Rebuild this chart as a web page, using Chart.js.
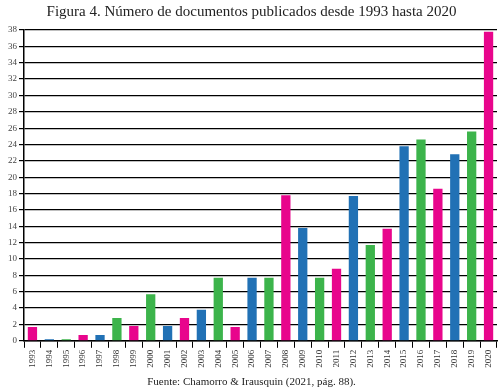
<!DOCTYPE html>
<html>
<head>
<meta charset="utf-8">
<script src="https://cdn.jsdelivr.net/npm/chart.js@4"></script>
<style>
  html, body { margin: 0; padding: 0; background: #fff; }
  #wrap { width: 504px; height: 392px; }
</style>
</head>
<body>
<div id="wrap"><canvas id="myChart" width="504" height="392"></canvas></div>
<script>
const years = ["1993", "1994", "1995", "1996", "1997", "1998", "1999", "2000", "2001", "2002",
  "2003", "2004", "2005", "2006", "2007", "2008", "2009", "2010", "2011", "2012",
  "2013", "2014", "2015", "2016", "2017", "2018", "2019", "2020"];

const docs = [1.7, 0.2, 0.2, 0.7, 0.7, 2.8, 1.8, 5.7, 1.8, 2.8,
  3.8, 7.7, 1.7, 7.7, 7.7, 17.8, 13.8, 7.7, 8.8, 17.7,
  11.7, 13.7, 23.8, 24.6, 18.6, 22.8, 25.6, 37.8];

// m = magenta, b = blue, g = green
const colorKeys = ["m", "b", "g", "m", "b", "g", "m", "g", "b", "m",
  "b", "g", "m", "b", "g", "m", "b", "g", "m", "b",
  "g", "m", "b", "g", "m", "b", "g", "m"];

const palette = { m: "#e8058c", b: "#2171b5", g: "#3cb44b" };

const ctx = document.getElementById("myChart");

new Chart(ctx, {
  type: "bar",
  data: {
    labels: years,
    datasets: [
      {
        data: docs,
        backgroundColor: colorKeys.map((k) => palette[k]),
        barPercentage: 0.55,
        categoryPercentage: 1,
      },
    ],
  },
  options: {
    responsive: false,
    animation: false,
    layout: { padding: { left: 6, right: 7, top: 0, bottom: 0 } },
    plugins: {
      legend: { display: false },
      tooltip: { enabled: false },
      title: {
        display: true,
        text: "Figura 4. Número de documentos publicados desde 1993 hasta 2020",
        color: "#222",
        font: { family: "Liberation Serif", size: 15, weight: "normal" },
        padding: { top: 3, bottom: 9 },
      },
      subtitle: {
        display: true,
        position: "bottom",
        text: "Fuente: Chamorro & Irausquin (2021, pág. 88).",
        color: "#222",
        font: { family: "Liberation Serif", size: 11 },
        padding: { top: 6, bottom: 3 },
      },
    },
    scales: {
      x: {
        grid: {
          display: true,
          offset: true,
          drawOnChartArea: false,
          drawTicks: true,
          tickLength: 7,
          color: "#000",
        },
        border: { color: "#000", width: 1.5 },
        ticks: {
          color: "#333",
          minRotation: 90,
          maxRotation: 90,
          autoSkip: false,
          padding: 2,
          font: { family: "Liberation Serif", size: 9 },
        },
      },
      y: {
        min: 0,
        max: 38,
        grid: {
          color: "#000",
          lineWidth: 1.2,
          tickLength: 5,
        },
        border: { color: "#000", width: 1.5 },
        ticks: {
          stepSize: 2,
          color: "#444",
          padding: 2,
          font: { family: "Liberation Serif", size: 9 },
        },
      },
    },
  },
});
</script>
</body>
</html>
